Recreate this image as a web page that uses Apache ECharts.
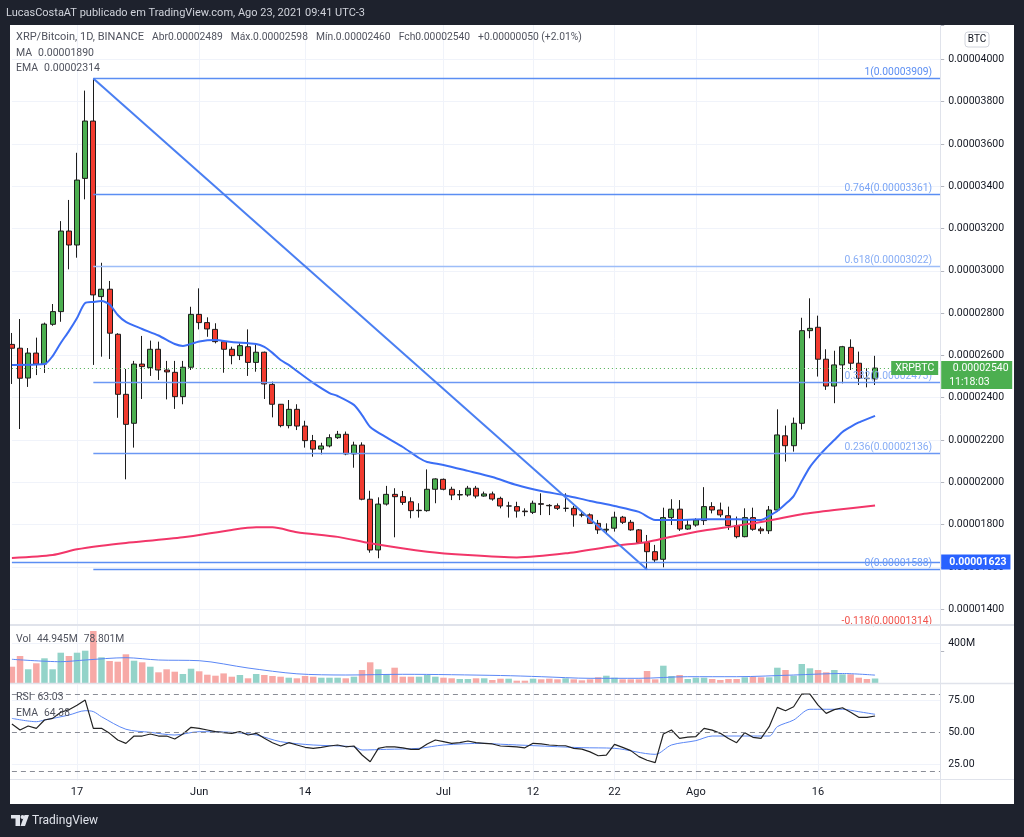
<!DOCTYPE html>
<html>
<head>
<meta charset="utf-8">
<script src="https://cdn.jsdelivr.net/npm/echarts@6.0.0/dist/echarts.min.js"></script>
<style>
html,body{margin:0;padding:0;background:#1e222d;overflow:hidden;}
#chart{width:1024px;height:837px;}
</style>
</head>
<body>
<div id="chart"></div>
<script>
// ---------------- DATA ----------------
// daily categories: 2021-05-09 .. 2021-08-31 (last 8 days are empty right margin)
const firstDay = [2021, 4, 9];
const dayCount = 115;
const categories = [];
for (let i = 0; i < dayCount; i++) {
  categories.push(new Date(Date.UTC(firstDay[0], firstDay[1], firstDay[2] + i)).toISOString().slice(0, 10));
}
const tickLabels = {
  '2021-05-17': '17', '2021-06-01': 'Jun', '2021-06-14': '14', '2021-07-01': 'Jul',
  '2021-07-12': '12', '2021-07-22': '22', '2021-08-01': 'Ago', '2021-08-16': '16'
};

// prices in units of 1e-8 BTC
const opens = [2652,2634,2493,2611,2559,2747,2807,3188,3122,3437,
  3708,2878,2913,2700,2416,2279,2559,2542,2629,2531,
  2520,2405,2544,2794,2755,2723,2665,2629,2599,2641,
  2567,2615,2463,2369,2268,2345,2266,2197,2157,2172,
  2211,2227,2134,2176,1920,1680,1897,1943,1932,1908,
  1866,1866,1967,2014,1967,1940,1940,1972,1935,1945,
  1924,1888,1885,1864,1858,1899,1891,1889,1877,1877,
  1846,1846,1806,1774,1783,1835,1811,1775,1715,1672,
  1636,1833,1873,1779,1798,1819,1885,1869,1842,1794,
  1743,1833,1779,1771,1869,2220,2173,2279,2717,2733,
  2582,2455,2555,2638,2563,2492,2489];
const highs = [2706,2772,2635,2684,2755,2843,3235,3335,3558,3852,
  3909,3038,2952,2705,2536,2574,2692,2670,2665,2574,
  2574,2574,2830,2917,2780,2752,2668,2641,2657,2723,
  2657,2618,2476,2370,2389,2369,2291,2224,2187,2227,
  2243,2240,2192,2189,1960,1929,1983,1972,1959,1929,
  1901,2061,2019,2018,1979,1963,1983,1983,1956,1956,
  1932,1908,1908,1877,1913,1948,1897,1900,1948,1888,
  1861,1853,1822,1806,1861,1841,1822,1779,1751,1704,
  1880,1920,1916,1822,1830,1977,1906,1904,1885,1838,
  1877,1880,1790,1888,2345,2268,2306,2778,2870,2788,
  2629,2622,2645,2676,2618,2539,2598];
const lows = [2465,2252,2451,2507,2517,2740,2759,3007,3062,3338,
  2555,2594,2583,2305,2014,2164,2394,2503,2484,2392,
  2347,2369,2531,2723,2688,2657,2518,2558,2578,2503,
  2523,2394,2307,2260,2255,2247,2164,2121,2132,2165,
  2205,2128,2069,1915,1667,1641,1890,1740,1893,1830,
  1833,1861,1901,1962,1916,1916,1932,1924,1932,1913,
  1877,1833,1833,1840,1850,1845,1845,1869,1861,1790,
  1835,1803,1756,1755,1767,1803,1771,1712,1588,1623,
  1598,1798,1770,1775,1790,1798,1853,1835,1775,1735,
  1740,1771,1756,1756,1860,2098,2145,2250,2681,2500,
  2437,2374,2468,2531,2460,2449,2460];
const closes = [2634,2492,2611,2559,2748,2807,3188,3122,3429,3708,
  2886,2913,2705,2416,2274,2559,2547,2629,2531,2522,
  2405,2544,2794,2755,2725,2665,2629,2599,2646,2567,
  2615,2465,2369,2268,2345,2266,2197,2157,2172,2211,
  2227,2134,2176,1920,1680,1897,1943,1932,1905,1866,
  1868,1967,2016,1967,1940,1942,1972,1935,1945,1921,
  1888,1888,1864,1861,1901,1896,1889,1877,1877,1846,
  1845,1806,1775,1778,1835,1811,1775,1715,1672,1633,
  1833,1873,1779,1798,1822,1885,1869,1846,1795,1743,
  1833,1778,1771,1869,2224,2173,2279,2717,2728,2582,
  2455,2555,2641,2563,2492,2490,2540];
// volume in millions
const volumes = [163,270,137,197,247,137,303,270,303,323,
  520,257,220,213,287,223,207,163,107,137,
  113,90,143,117,83,73,96,63,80,47,
  90,80,70,63,53,47,70,63,53,53,
  53,47,63,130,207,137,90,153,63,63,
  63,80,63,53,47,40,40,47,47,30,
  43,43,23,23,43,37,43,37,47,37,
  27,37,57,73,53,37,37,37,120,37,
  173,70,80,40,53,53,40,30,40,40,
  57,63,57,57,153,130,73,190,147,130,
  107,130,87,87,53,40,44.945];
// EMA (blue) read at sampled days
const emaIdx = [0,4,5,6,7,8,9,10,11,12,13,14,16,18,20,21,23,25,27,30,31,32,33,34,35,37,39,40,42,43,44,46,48,50,51,53,56,59,62,65,68,71,74,77,79,81,85,89,92,93,94,95,96,97,98,99,100,101,102,103,104,105,106];
const emaVal = [2555,2559,2597,2659,2715,2777,2848,2853,2857,2841,2791,2758,2725,2694,2654,2645,2666,2673,2663,2654,2640,2612,2578,2555,2526,2470,2422,2408,2366,2318,2262,2212,2167,2115,2096,2082,2054,2025,1987,1959,1938,1912,1888,1860,1822,1822,1825,1825,1822,1841,1864,1897,1935,2006,2072,2120,2162,2200,2238,2262,2283,2299,2314];
// MA (pink)
const maIdx = [0,5,8,11,14,21,27,30,32,35,40,44,51,56,62,68,74,78,81,85,89,93,97,101,106];
const maVal = [1642,1656,1683,1700,1713,1740,1775,1787,1787,1764,1742,1712,1672,1656,1645,1664,1699,1718,1743,1772,1794,1819,1849,1869,1890];
// volume MA (M)
const volMaIdx = [0,6,9,14,18,23,29,35,41,48,60,65,71,77,83,89,96,102,106];
const volMaVal = [237,213,230,253,230,223,150,92,80,87,75,63,47,47,63,63,80,95,78.801];
// RSI
const rsi = [56.8,52.1,55.2,53.4,59.9,61.2,66,68,71.5,75.5,
  53.4,53.4,49.5,44.3,41.7,47.4,47.4,49,47.4,47.4,
  45.1,49,54.2,53.4,52.1,50.8,50,49.5,50.8,48.2,
  49.5,45.6,42.2,39.6,42.2,40.4,38.6,37.8,38.6,39.6,
  40.4,39,39.6,32.6,27.3,37.8,39,39,38.2,37,
  37,41.2,44.3,43,41.7,42.2,43.5,42.2,41.7,41.2,
  39.6,39.3,39,38.2,41.7,41.2,40.4,40,39.8,37.8,
  37.2,35,32,32.5,40.9,38.5,36,31.3,28.5,26.6,
  49,52.1,45.6,46.5,47,53.4,52,49.5,45.5,42.2,
  50,46.4,45.6,54.7,69.8,67.2,70.3,80.2,80.2,71.6,
  65.1,68,69.5,66,62,62,63.03];
const rsiEmaIdx = [0,3,4,7,9,10,11,14,17,20,23,27,30,33,37,42,43,46,50,53,58,60,64,70,74,79,81,84,86,90,93,94,96,98,100,102,104,106];
const rsiEmaVal = [61.2,58.6,59.9,63.8,67.2,66.5,62.5,52.7,50.3,48.2,50.8,50.3,48.2,43,40.4,39,36.5,37,37.8,40.4,41.7,41,39.9,38.3,37.8,33.1,40.4,43.8,47.4,47.4,47.4,54.7,59.9,68.3,68.3,68.3,66.4,64.38];
const rsiBands = [80, 50, 20];
// Fibonacci retracement (drawn from 2021-05-19 high to 2021-07-26 low)
const fibLevels = [1, 0.764, 0.618, 0.382, 0.236, 0, -0.118];
const fibPrices = [3909, 3361, 3022, 2473, 2136, 1588, 1314];
const fibStart = '2021-05-19';
const trendEnd = '2021-07-26';
const hLinePrice = 1623;
const countdown = '11:18:03';

// ---------------- HELPERS / STYLES ----------------
const FONT = 'Roboto, "Liberation Sans", sans-serif';
const fmt = v => (v / 1e8).toFixed(8);
const last = closes.length - 1;
const chg = closes[last] - closes[last - 1];
const pct = chg / closes[last - 1] * 100;
const sgn = v => (v >= 0 ? '+' : '-');
const pairs = (idx, val) => idx.map((k, j) => [k, val[j]]);
const T = 'rgba(0,0,0,0)', G = '#f0f3fa';
const fibLineColors = ['#5b8ef3', '#5b8ef3', '#9dbdf8', '#6b98f4', '#6b98f4', '#5b8ef3', T];
const fibLabelColors = ['#5b8ef3', '#7aa5f6', '#86acf5', '#86acf5', '#86acf5', '#6f9cf5', '#f0524b'];

const endCat = categories[categories.length - 1];
const markLines = fibLevels.map((lv, k) => [
  { coord: [fibStart, fibPrices[k]],
    lineStyle: { color: fibLineColors[k], width: 1.3, type: 'solid' },
    label: { show: true, position: 'insideEndTop', distance: [8, 1], color: fibLabelColors[k], fontSize: 10.3,
      fontFamily: FONT, formatter: () => lv + '(' + fmt(fibPrices[k]) + ')' } },
  { coord: [endCat, fibPrices[k]] }
]);
markLines.push([
  { coord: [fibStart, fibPrices[0]], lineStyle: { color: '#4a7ff2', width: 2, type: 'solid' } },
  { coord: [trendEnd, fibPrices[5]] }
]);
markLines.push({
  yAxis: hLinePrice, lineStyle: { color: '#5b8ef3', width: 1.3, type: 'solid' },
  label: { show: true, position: 'end', distance: 1, formatter: () => fmt(hLinePrice), color: '#fff',
    backgroundColor: '#2962ff', padding: [2, 4, 2, 8], fontSize: 10.5, fontFamily: FONT, fontWeight: 'bold' }
});
const boxTok = { color: '#fff', backgroundColor: '#4caf50', height: 14, lineHeight: 14, fontSize: 10.5, fontFamily: FONT };
markLines.push({
  yAxis: closes[last], lineStyle: { color: '#4caf50', width: 1, type: [1, 3] },
  label: { show: true, position: 'end', distance: -49,
    formatter: () => '{s| }\n{n|XRPBTC}{t| }{a|' + fmt(closes[last]) + '}\n{g| }{b|' + countdown + '}',
    rich: {
      s: { width: 2, height: 14, lineHeight: 14, fontSize: 10 },
      n: Object.assign({}, boxTok, { width: 47, align: 'center' }),
      t: { width: 3, height: 14, lineHeight: 14, fontSize: 10 },
      a: Object.assign({}, boxTok, { width: 63, padding: [0, 0, 0, 8], align: 'left' }),
      g: { width: 50, height: 14, lineHeight: 14, fontSize: 10 },
      b: Object.assign({}, boxTok, { width: 63, padding: [0, 0, 0, 8], align: 'left' })
    } }
});

// y-axis split line colours (first tick = hidden min, last = hidden max)
const priceSplit = [T]; for (let v = 1400; v <= 4000; v += 200) priceSplit.push(G); priceSplit.push(T);
const volSplit = [T, T, T, T, G, T, T];
const rsiSplit = [T, G, T, T, T, G, T, T];

const GL = 11.9, GW = 928.3;
const isTick = (i, v) => tickLabels[v] !== undefined;

const txt = (x, y, text, rich, size, color) => ({
  type: 'text', x: x, y: y, z: 120, silent: true,
  style: { text: text, rich: rich || {}, fill: color || '#50535e', font: (size || 11) + 'px ' + FONT, verticalAlign: 'middle', align: 'left' }
});
const r = (fill, sz, pad) => ({ color: fill, fontSize: sz || 10.3, fontFamily: FONT, padding: pad || [0, 0, 0, 0] });

const option = {
  animation: false,
  backgroundColor: '#ffffff',
  textStyle: { fontFamily: FONT },
  grid: [
    { left: GL, width: GW, top: 25, height: 626.5 },
    { left: GL, width: GW, top: 625.5, height: 57.5 },
    { left: GL, width: GW, top: 684.5, height: 96.2 }
  ],
  xAxis: [0, 1, 2].map(g => ({
    type: 'category', gridIndex: g, data: categories, boundaryGap: false,
    axisLine: { show: false }, axisTick: { show: false },
    axisLabel: g === 2 ? { show: true, interval: isTick, formatter: v => tickLabels[v] || '', color: '#131722', fontSize: 11, margin: 6 } : { show: false },
    splitLine: { show: true, interval: isTick, lineStyle: { color: G, width: 1 } }
  })),
  yAxis: [
    { type: 'value', gridIndex: 0, position: 'right', min: 1200, max: 4162.2, interval: 200,
      axisLine: { show: false }, axisTick: { show: true, length: 4, lineStyle: { color: '#b2b5be' } },
      axisLabel: { color: '#131722', fontSize: 10.5, margin: 8, formatter: v => (v >= 1400 && v <= 4000 && v % 200 === 0) ? fmt(v) : '' },
      splitLine: { show: true, lineStyle: { color: priceSplit } } },
    { type: 'value', gridIndex: 1, position: 'right', min: 0, max: 575, interval: 100,
      axisLine: { show: false }, axisTick: { show: false },
      axisLabel: { color: '#131722', fontSize: 10.5, margin: 8, formatter: v => v === 400 ? '400M' : '' },
      splitLine: { show: true, lineStyle: { color: volSplit } } },
    { type: 'value', gridIndex: 2, position: 'right', min: 12.5, max: 87.66, interval: 12.5,
      axisLine: { show: false }, axisTick: { show: false },
      axisLabel: { color: '#131722', fontSize: 10.5, margin: 8, formatter: v => (v === 25 || v === 50 || v === 75) ? v.toFixed(2) : '' },
      splitLine: { show: true, lineStyle: { color: rsiSplit } } }
  ],
  series: [
    { type: 'candlestick', name: 'XRPBTC', xAxisIndex: 0, yAxisIndex: 0, barWidth: 5.5,
      data: opens.map((o, i) => [o, closes[i], lows[i], highs[i]]),
      itemStyle: { color: '#4caf50', color0: '#f23b2f', borderColor: '#1c1c1c', borderColor0: '#1c1c1c', borderWidth: 1 },
      markLine: { symbol: ['none', 'none'], silent: true, animation: false, precision: 8, label: { show: false }, data: markLines } },
    { type: 'line', name: 'EMA', xAxisIndex: 0, yAxisIndex: 0, data: pairs(emaIdx, emaVal), symbol: 'none', smooth: 0.25,
      lineStyle: { color: '#3b6ef5', width: 2 }, z: 3 },
    { type: 'line', name: 'MA', xAxisIndex: 0, yAxisIndex: 0, data: pairs(maIdx, maVal), symbol: 'none', smooth: 0.25,
      lineStyle: { color: '#f23669', width: 2 }, z: 3 },
    { type: 'bar', name: 'Vol', xAxisIndex: 1, yAxisIndex: 1, barWidth: 6.5,
      data: volumes.map((v, i) => ({ value: v, itemStyle: { color: closes[i] >= opens[i] ? '#93d3c9' : '#f7a9a6' } })) },
    { type: 'line', name: 'VolMA', xAxisIndex: 1, yAxisIndex: 1, data: pairs(volMaIdx, volMaVal), symbol: 'none', smooth: 0.3,
      lineStyle: { color: '#5b87f5', width: 1 }, z: 4 },
    { type: 'line', name: 'RSI', xAxisIndex: 2, yAxisIndex: 2, data: rsi, symbol: 'none',
      lineStyle: { color: '#222222', width: 1.2 }, z: 4,
      markLine: { symbol: ['none', 'none'], silent: true, label: { show: false },
        lineStyle: { color: '#8a8d96', type: [5, 4], width: 1 }, data: rsiBands.map(b => ({ yAxis: b })) } },
    { type: 'line', name: 'RSI EMA', xAxisIndex: 2, yAxisIndex: 2, data: pairs(rsiEmaIdx, rsiEmaVal), symbol: 'none', smooth: 0.3,
      lineStyle: { color: '#5b87f5', width: 1 }, z: 3 }
  ],
  graphic: [
    { type: 'rect', shape: { x: 0, y: 0, width: 1024, height: 25 }, style: { fill: '#1e222d' }, z: 100, silent: true },
    { type: 'rect', shape: { x: 0, y: 0, width: 10, height: 837 }, style: { fill: '#1e222d' }, z: 100, silent: true },
    { type: 'rect', shape: { x: 1014, y: 0, width: 10, height: 837 }, style: { fill: '#1e222d' }, z: 100, silent: true },
    { type: 'rect', shape: { x: 0, y: 804, width: 1024, height: 33 }, style: { fill: '#1e222d' }, z: 100, silent: true },
    { type: 'line', shape: { x1: 940.5, y1: 25, x2: 940.5, y2: 804 }, style: { stroke: '#e0e3eb', lineWidth: 1 }, z: 50, silent: true },
    { type: 'line', shape: { x1: 10, y1: 625, x2: 1014, y2: 625 }, style: { stroke: '#e0e3eb', lineWidth: 2 }, z: 50, silent: true },
    { type: 'line', shape: { x1: 10, y1: 683.5, x2: 1014, y2: 683.5 }, style: { stroke: '#e0e3eb', lineWidth: 1.5 }, z: 50, silent: true },
    { type: 'line', shape: { x1: 10, y1: 779.5, x2: 1014, y2: 779.5 }, style: { stroke: '#e0e3eb', lineWidth: 1 }, z: 50, silent: true },
    { type: 'rect', shape: { x: 965, y: 32, width: 24, height: 15, r: 3 }, style: { fill: '#fff', stroke: '#d1d4dc', lineWidth: 1 }, z: 110, silent: true },
    { type: 'text', x: 977, y: 39.5, z: 120, silent: true, style: { text: 'BTC', fill: '#131722', font: '10px ' + FONT, align: 'center', verticalAlign: 'middle' } },
    txt(6, 13, 'LucasCostaAT publicado em TradingView.com, Ago 23, 2021 09:41 UTC-3', null, 11, '#d1d4dc'),
    txt(16, 37.5,
      '{n|XRP/Bitcoin, 1D, BINANCE}{v|Abr' + fmt(opens[last]) + '}{v|Máx.' + fmt(highs[last]) + '}{v|Mín.' + fmt(lows[last]) + '}{v|Fch' + fmt(closes[last]) + '}{v|' +
      sgn(chg) + fmt(Math.abs(chg)) + ' (' + sgn(chg) + Math.abs(pct).toFixed(2) + '%)}',
      { n: r('#50535e', 11), v: r('#50535e', 10.3, [0, 0, 0, 8]) }),
    txt(16, 53.3, '{l|MA}{p|' + fmt(maVal[maVal.length - 1]) + '}', { l: r('#50535e', 10.5), p: r('#f23669', 10.5, [0, 0, 0, 6]) }),
    txt(16, 68.8, '{l|EMA}{p|' + fmt(emaVal[emaVal.length - 1]) + '}', { l: r('#50535e', 10.5), p: r('#3b6ef5', 10.5, [0, 0, 0, 6]) }),
    txt(16, 639.3, '{l|Vol}{a|' + volumes[last].toFixed(3) + 'M}{b|' + volMaVal[volMaVal.length - 1].toFixed(3) + 'M}',
      { l: r('#50535e', 10.5), a: r('#26a69a', 10.3, [0, 0, 0, 6]), b: r('#3b6ef5', 10.3, [0, 0, 0, 6]) }),
    txt(16, 697.3, '{l|RSI}{a|' + rsi[last].toFixed(2) + '}', { l: r('#50535e', 10.5), a: r('#50535e', 10.3, [0, 0, 0, 6]) }),
    txt(16, 713.3, '{l|EMA}{a|' + rsiEmaVal[rsiEmaVal.length - 1].toFixed(2) + '}', { l: r('#50535e', 10.5), a: r('#3b6ef5', 10.3, [0, 0, 0, 6]) }),
    // TradingView footer logo
    { type: 'rect', shape: { x: 11, y: 815, width: 9, height: 3.5 }, style: { fill: '#e0e3eb' }, z: 120, silent: true },
    { type: 'rect', shape: { x: 15.5, y: 815, width: 4.5, height: 11 }, style: { fill: '#e0e3eb' }, z: 120, silent: true },
    { type: 'circle', shape: { cx: 22.5, cy: 817, r: 2 }, style: { fill: '#e0e3eb' }, z: 120, silent: true },
    { type: 'polygon', shape: { points: [[24.5, 815], [29, 815], [25, 826], [20.5, 826]] }, style: { fill: '#e0e3eb' }, z: 120, silent: true },
    txt(32, 821, 'TradingView', null, 12, '#e0e3eb')
  ]
};

const chart = echarts.init(document.getElementById('chart'), null, { renderer: 'canvas' });
chart.setOption(option);
</script>
</body>
</html>
